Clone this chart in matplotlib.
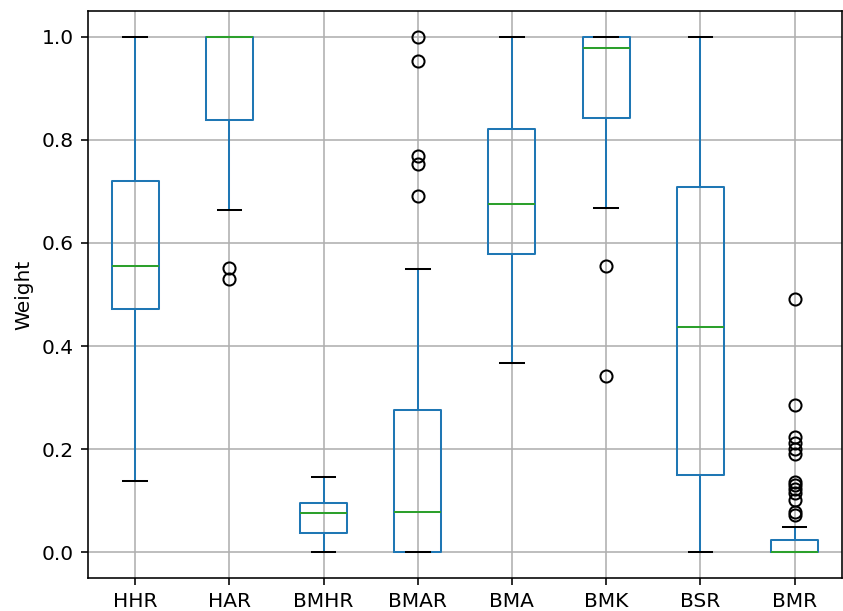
import matplotlib
matplotlib.use("Agg")
import matplotlib.pyplot as plt

categories = ["HHR", "HAR", "BMHR", "BMAR", "BMA", "BMK", "BSR", "BMR"]
whislo = [0.138, 0.663, 0.0, 0.0, 0.368, 0.667, 0.0, 0.0]
q1 = [0.471, 0.839, 0.037, 0.0, 0.578, 0.843, 0.149, 0.0]
med = [0.556, 1.0, 0.076, 0.078, 0.676, 0.979, 0.436, 0.0]
q3 = [0.721, 1.0, 0.095, 0.275, 0.822, 1.0, 0.709, 0.023]
whishi = [1.0, 1.0, 0.145, 0.550, 1.0, 1.0, 1.0, 0.049]
fliers = [
    [],
    [0.552, 0.531],
    [],
    [1.0, 0.953, 0.769, 0.753, 0.692],
    [],
    [0.556, 0.341],
    [],
    [0.492, 0.285, 0.223, 0.211, 0.201, 0.191, 0.136, 0.130, 0.123,
     0.114, 0.101, 0.078, 0.072],
]

stats = []
for i, c in enumerate(categories):
    stats.append(dict(label=c, whislo=whislo[i], q1=q1[i], med=med[i],
                      q3=q3[i], whishi=whishi[i], fliers=fliers[i]))

s = 1.45
plt.rcParams['font.size'] = 10 * s
plt.rcParams['xtick.major.size'] = 3.5 * s
plt.rcParams['ytick.major.size'] = 3.5 * s
plt.rcParams['xtick.major.width'] = 0.8 * s
plt.rcParams['ytick.major.width'] = 0.8 * s
plt.rcParams['xtick.major.pad'] = 3.5 * s
plt.rcParams['ytick.major.pad'] = 3.5 * s
plt.rcParams['axes.labelpad'] = 4.0 * s

fig = plt.figure(figsize=(8.43, 6.11), dpi=100)
ax = fig.add_axes([0.1044, 0.054, 0.894, 0.928])
ax.bxp(stats, widths=0.5,
       boxprops=dict(color="C0", linewidth=1.0 * s),
       whiskerprops=dict(color="C0", linewidth=1.0 * s),
       capprops=dict(color="black", linewidth=1.0 * s),
       medianprops=dict(color="C2", linewidth=1.0 * s),
       flierprops=dict(marker="o", markerfacecolor="none",
                       markeredgecolor="black", markersize=6 * s,
                       markeredgewidth=1.0 * s))
ax.grid(True, color="#b0b0b0", linewidth=0.8 * s)
ax.set_axisbelow(True)
ax.set_ylabel("Weight")
ax.set_ylim(-0.05, 1.05)
ax.set_yticks([0.0, 0.2, 0.4, 0.6, 0.8, 1.0])
ax.set_xlim(0.5, 8.5)
for sp in ax.spines.values():
    sp.set_linewidth(0.8 * s)
fig.savefig("out.png", dpi=100)
